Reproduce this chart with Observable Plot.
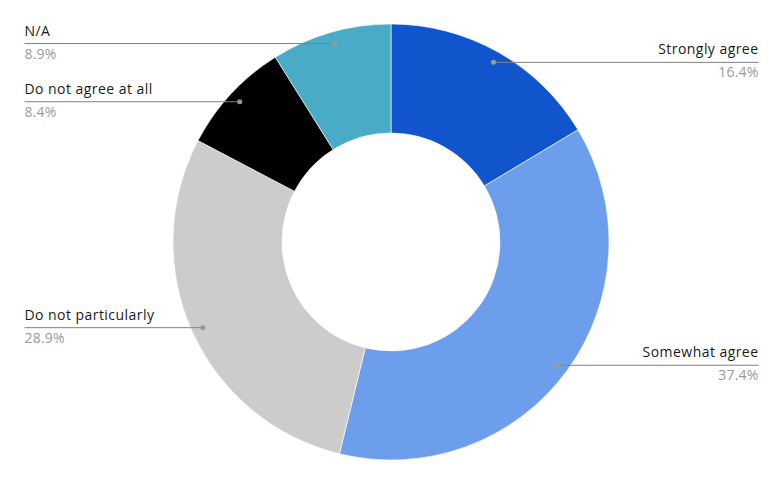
<!DOCTYPE html>
<html>
<head>
<meta charset="utf-8">
<script src="https://cdn.jsdelivr.net/npm/d3@7"></script>
<script src="https://cdn.jsdelivr.net/npm/@observablehq/plot@0.6"></script>
<style>
  body { margin: 0; background: #fff; }
  #chart svg { display: block; }
  .nm text { letter-spacing: 0.45px; }
  .pc text { letter-spacing: 0.2px; }
</style>
</head>
<body>
<div id="chart"></div>
<script>
const categories = ["Strongly agree", "Somewhat agree", "Do not particularly", "Do not agree at all", "N/A"];
const values = [16.4, 37.4, 28.9, 8.4, 8.9];
const colors = ["#1155cc", "#6d9eeb", "#cccccc", "#000000", "#4aabc6"];
const sides = ["right", "right", "left", "left", "left"];

const W = 783, H = 484;
const cx = 391, cy = 242, R = 218, r0 = 109, labelR = 207;
const leftX = 24, rightX = 758;

const pieData = d3.pie().sort(null).value(d => d.value)(
  categories.map((c, i) => ({name: c, value: values[i], color: colors[i], side: sides[i]}))
);
const rows = pieData.map(p => {
  const mid = (p.startAngle + p.endAngle) / 2;
  return {
    ...p.data,
    dx: cx + labelR * Math.sin(mid),
    dy: cy - labelR * Math.cos(mid),
    ex: p.data.side === "left" ? leftX : rightX,
    pct: p.data.value.toFixed(1) + "%"
  };
});
const leftRows = rows.filter(d => d.side === "left");
const rightRows = rows.filter(d => d.side === "right");

function donut(index, scales) {
  const X = scales.x(cx), Y = scales.y(cy);
  const k = Math.abs(scales.x(1) - scales.x(0));
  const arc = d3.arc().innerRadius(r0 * k).outerRadius(R * k);
  const g = d3.create("svg:g").attr("transform", `translate(${X},${Y})`);
  g.selectAll("path").data(pieData).join("path")
    .attr("d", arc)
    .attr("fill", d => d.data.color)
    .attr("stroke", "#fff")
    .attr("stroke-width", 0.6);
  return g.node();
}

const font = "'Open Sans', sans-serif";
function labels(data, anchor) {
  return [
    Plot.text(data, {x: "ex", y: "dy", text: "name", textAnchor: anchor, className: "nm",
      lineAnchor: "bottom", dy: -8, fill: "#1a1a1a", fontSize: 14, fontWeight: 500, fontFamily: font}),
    Plot.text(data, {x: "ex", y: "dy", text: "pct", textAnchor: anchor, className: "pc",
      lineAnchor: "bottom", dy: 15, fill: "#9a9a9a", fontSize: 14, fontFamily: font})
  ];
}
const plot = Plot.plot({
  width: W, height: H,
  margin: 0,
  x: {domain: [0, W], range: [0, W], axis: null},
  y: {domain: [0, H], range: [0, H], axis: null},
  style: {fontFamily: font, background: "#fff"},
  marks: [
    donut,
    Plot.link(rows, {x1: "dx", y1: "dy", x2: "ex", y2: "dy", stroke: "#808080", strokeWidth: 1}),
    Plot.dot(rows, {x: "dx", y: "dy", r: 2.5, fill: "#999", stroke: null}),
    ...labels(leftRows, "start"),
    ...labels(rightRows, "end")
  ]
});
document.getElementById("chart").appendChild(plot);
</script>
</body>
</html>
